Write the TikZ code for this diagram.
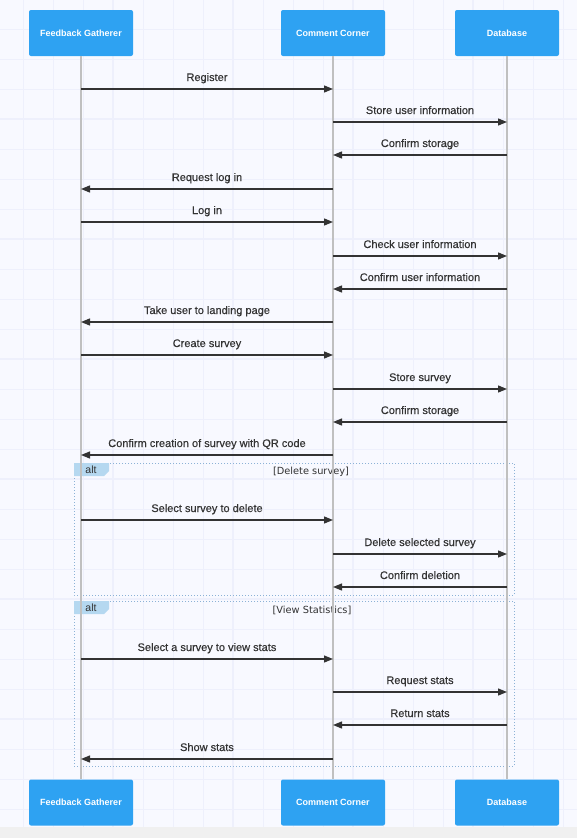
\documentclass[tikz,border=0pt]{standalone}
\usepackage{fontspec}
\setmainfont{Liberation Sans}
\newfontfamily\condfont{DejaVu Sans}
\newfontfamily\msgfont[FakeBold=0.35]{Liberation Sans}
\usetikzlibrary{arrows.meta,positioning}
\definecolor{seqblue}{RGB}{46,162,242}
\definecolor{seqbg}{RGB}{248,249,255}
\definecolor{seqgrid}{RGB}{238,240,252}
\definecolor{seqline}{RGB}{192,192,192}
\definecolor{seqtext}{RGB}{51,51,51}
\definecolor{altborder}{RGB}{140,178,214}
\definecolor{altfill}{RGB}{181,216,240}
\definecolor{pagegrey}{RGB}{240,240,240}
\tikzstyle{actor} = [rectangle, rounded corners=2pt, minimum width=104pt, minimum height=46pt, fill=seqblue, text=white, font=\bfseries\fontsize{9}{10}\selectfont, inner sep=0pt]
\tikzstyle{lifeline} = [line width=1.5pt, color=seqline]
\tikzstyle{msg} = [line width=1.3pt, color=seqtext, -{Triangle[length=9pt,width=7pt]}]
\tikzstyle{msglabel} = [font=\msgfont\fontsize{11}{13}\selectfont, text=seqtext, anchor=base, yshift=8pt, inner sep=0pt]
\tikzstyle{altbox} = [line width=1pt, color=altborder, dash pattern=on 1pt off 2pt]
\tikzstyle{altlabel} = [font=\fontsize{10.5}{12}\selectfont, text=seqtext, inner sep=0pt]
\tikzstyle{condlabel} = [font=\condfont\fontsize{9.8}{11}\selectfont, text=seqtext, inner sep=0pt]

\begin{document}
\begin{tikzpicture}[x=1pt, y=-1pt]
\useasboundingbox (0,0) rectangle (577,838);

% Background grid
\fill[seqbg] (0,0) rectangle (577,827);
\fill[pagegrey] (0,827) rectangle (577,838);
\foreach \x in {23,53,...,563} \draw[seqgrid, line width=1pt] (\x,0) -- (\x,827);
\foreach \y in {29,59,...,809} \draw[seqgrid, line width=1pt] (0,\y) -- (577,\y);
\foreach \x in {113,233,353,473} \draw[seqgrid, line width=2.5pt] (\x,0) -- (\x,827);
\foreach \y in {119,239,359,479,599,719} \draw[seqgrid, line width=2.5pt] (0,\y) -- (577,\y);

% Alt frames
\draw[altbox] (74,463) rectangle (514,595);
\fill[altfill] (74,463) -- (109,463) -- (109,471) -- (104,476) -- (74,476) -- cycle;
\node (alt1) at (91,469.5) [altlabel] {alt};
\node (cond1) at (311,472) [condlabel] {[Delete survey]};

\draw[altbox] (74,601) rectangle (514,766);
\fill[altfill] (74,601) -- (109,601) -- (109,609) -- (104,614) -- (74,614) -- cycle;
\node (alt2) at (91,607.5) [altlabel] {alt};
\node (cond2) at (312,610) [condlabel] {[View Statistics]};

% Actors
\node (fgtop) [actor] at (81,33) {Feedback Gatherer};
\node (cctop) [actor] at (333,33) {Comment Corner};
\node (dbtop) [actor] at (507,33) {Database};
\node (fgbot) [actor] at (81,802.5) {Feedback Gatherer};
\node (ccbot) [actor] at (333,802.5) {Comment Corner};
\node (dbbot) [actor] at (507,802.5) {Database};

\draw[lifeline] (fgtop) -- (fgbot);
\draw[lifeline] (cctop) -- (ccbot);
\draw[lifeline] (dbtop) -- (dbbot);

% Messages
\foreach \y/\from/\to/\txt in {
  89/fgtop/cctop/Register,
  122/cctop/dbtop/Store user information,
  155/dbtop/cctop/Confirm storage,
  189/cctop/fgtop/Request log in,
  222/fgtop/cctop/Log in,
  256/cctop/dbtop/Check user information,
  289/dbtop/cctop/Confirm user information,
  322/cctop/fgtop/Take user to landing page,
  355/fgtop/cctop/Create survey,
  389/cctop/dbtop/Store survey,
  422/dbtop/cctop/Confirm storage,
  455/cctop/fgtop/Confirm creation of survey with QR code,
  520/fgtop/cctop/Select survey to delete,
  554/cctop/dbtop/Delete selected survey,
  587/dbtop/cctop/Confirm deletion,
  659/fgtop/cctop/Select a survey to view stats,
  692/cctop/dbtop/Request stats,
  725/dbtop/cctop/Return stats,
  759/cctop/fgtop/Show stats}
  \draw[msg] (\from |- 0,\y) -- (\to |- 0,\y) node[msglabel, midway] {\txt};
\end{tikzpicture}
\end{document}
